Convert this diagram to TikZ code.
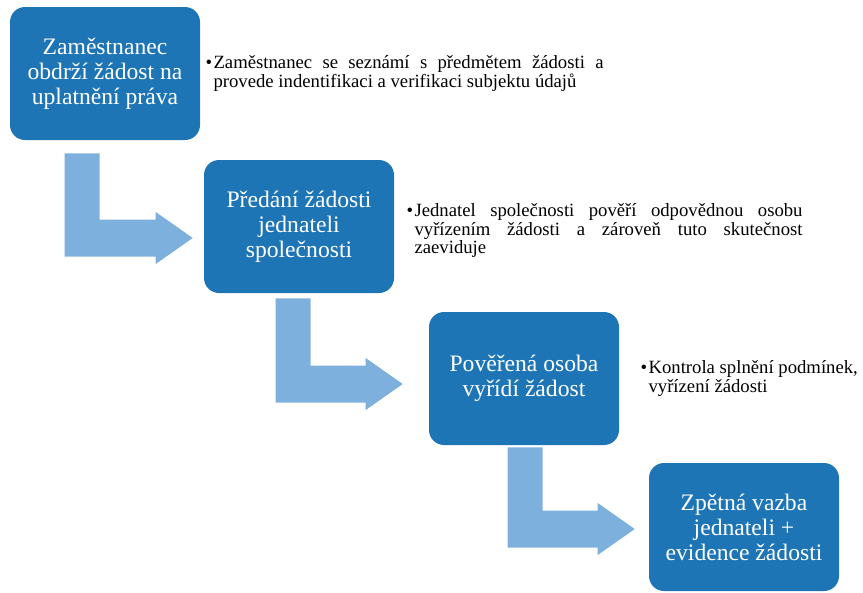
\documentclass[tikz,border=0pt]{standalone}
\usepackage{fontspec}
\setmainfont{Liberation Serif}
\usepackage{tikz}
\usetikzlibrary{positioning, calc}
\definecolor{boxblue}{RGB}{30,117,182}
\definecolor{arrowblue}{RGB}{126,176,222}
\hbadness=10000
\newcommand{\itembul}{\llap{\textbullet\hspace{1pt}}}

\begin{document}
\begin{tikzpicture}[
    stepnode/.style={fill=boxblue, rounded corners=3.75mm, minimum width=4.75cm, minimum height=3.325cm,
                inner sep=0pt, text=white, align=center, font=\fontsize{16.8}{17.8}\selectfont},
    note/.style={inner sep=0pt, anchor=west, font=\fontsize{13.3}{12}\selectfont,
                execute at begin node={\baselineskip=12pt}},
    bent/.style={fill=arrowblue},
]
\useasboundingbox (0,0) rectangle (21.575,-14.8);
% ------------------------------------------------ the four steps
\node[stepnode] (zam) at (2.625,-1.8375) {Zaměstnanec\\obdrží žádost na\\uplatnění práva};
\node[stepnode] (pre) at (7.475,-5.6625) {Předání žádosti\\jednateli\\společnosti};
\node[stepnode] (pov) at (13.1,-9.4625) {Pověřená osoba\\vyřídí žádost};
\node[stepnode, minimum height=3.2cm] (zpe) at (18.6,-13.175) {Zpětná vazba\\jednateli +\\evidence žádosti};
% ------------------------------------------------ what happens in each step
\node[note, text width=9.75cm, align=justify, right=0.325cm of zam] (zamtxt)
  {\itembul Zaměstnanec se seznámí s předmětem žádosti a\linebreak provede indentifikaci a verifikaci subjektu údajů\par};
\node[note, text width=9.7cm, align=justify, right=0.5cm of pre, yshift=-1mm] (pretxt)
  {\itembul Jednatel společnosti pověří odpovědnou osobu\linebreak vyřízením žádosti a zároveň tuto skutečnost\linebreak zaeviduje\par};
\node[note, align=left, right=0.725cm of pov] (povtxt)
  {\itembul Kontrola splnění podmínek,\\vyřízení žádosti};
% ------------------------------------------------ bent arrows between the steps
\foreach \from/\to/\dx/\dy/\gap/\drop in {zam/pre/1.375/0.325/0.275/0.2875,
                                          pre/pov/1.8/0.125/0.65/0.1375,
                                          pov/zpe/1.975/0.05/0.35/0.05} {
  \coordinate (\from-top) at ([xshift=\dx cm, yshift=-\dy cm]\from.south west);
  \coordinate (\to-tip) at ([xshift=-\gap cm, yshift=-\drop cm]\to.west);
  \fill[bent] let \p1=(\from-top), \p2=(\to-tip) in
    (\x1,\y1) -- (\x1+8.75mm,\y1) -- (\x1+8.75mm,\y2+4.625mm) -- (\x2-9.25mm,\y2+4.625mm)
    -- (\x2-9.25mm,\y2+6.5mm) -- (\x2,\y2) -- (\x2-9.25mm,\y2-6.5mm)
    -- (\x2-9.25mm,\y2-4.625mm) -- (\x1,\y2-4.625mm) -- cycle;
}
\end{tikzpicture}
\end{document}
